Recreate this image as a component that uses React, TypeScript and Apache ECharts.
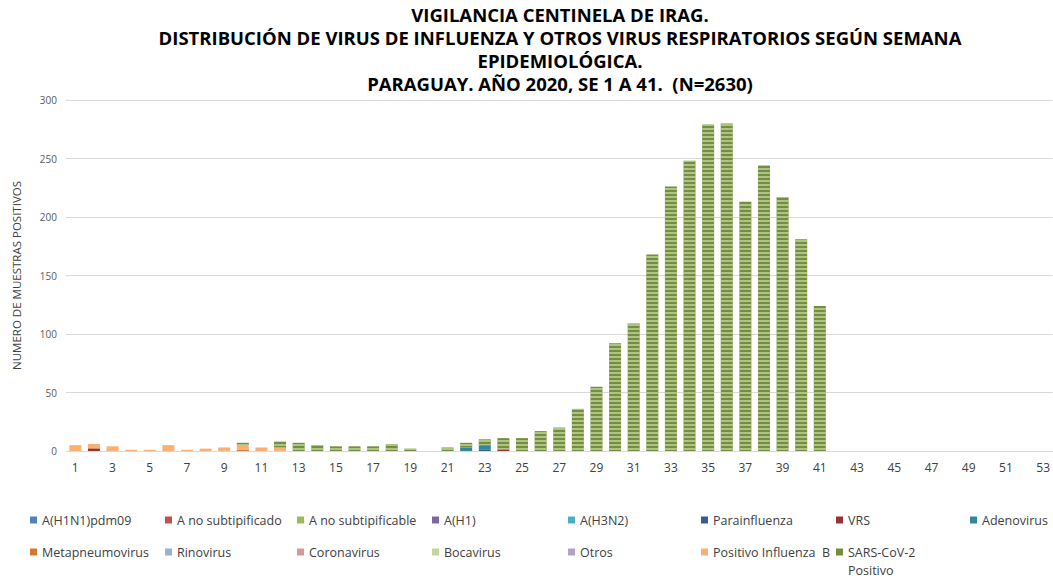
import React, { useEffect, useRef } from "react";
import * as echarts from "echarts";

const weeks: string[] = [
  "1","2","3","4","5","6","7","8","9","10","11","12","13","14","15","16","17","18","19","20",
  "21","22","23","24","25","26","27","28","29","30","31","32","33","34","35","36","37","38","39","40",
  "41","42","43","44","45","46","47","48","49","50","51","52","53",
];

const ZERO: number[] = [
  0,0,0,0,0,0,0,0,0,0, 0,0,0,0,0,0,0,0,0,0, 0,0,0,0,0,0,0,0,0,0, 0,0,0,0,0,0,0,0,0,0, 0,0,0,0,0,0,0,0,0,0, 0,0,0,
];

const parainfluenza: number[] = [
  0,0,0,0,0,0,0,0,0,0, 0,0,0,0,0,0,0,0,0,0, 0,0,1,0,0,0,0,0,0,0, 0,0,0,0,0,0,0,0,0,0, 0,0,0,0,0,0,0,0,0,0, 0,0,0,
];
const vrs: number[] = [
  0,2,0,0,0,0,0,0,0,0, 0,0,0,0,0,0,0,0,0,0, 0,0,0,1,0,0,0,0,0,0, 0,0,0,0,0,0,0,0,0,0, 0,0,0,0,0,0,0,0,0,0, 0,0,0,
];
const adenovirus: number[] = [
  0,0,0,0,0,0,0,0,0,0, 0,0,0,0,0,0,0,0,0,0, 0,3,4,0,0,0,0,0,0,0, 0,0,0,0,0,0,0,0,0,0, 0,0,0,0,0,0,0,0,0,0, 0,0,0,
];
const metapneumovirus: number[] = [
  0,1,0,0,0,0,0,0,0,1, 0,0,0,0,0,0,0,0,0,0, 0,0,0,1,0,0,0,0,0,0, 0,0,0,0,0,0,0,0,0,0, 0,0,0,0,0,0,0,0,0,0, 0,0,0,
];
const influenzaB: number[] = [
  5,3,4,1,1,5,1,2,3,4, 3,3,0,0,0,0,0,0,0,0, 0,0,0,0,0,0,0,0,0,0, 0,0,0,0,0,0,0,0,0,0, 0,0,0,0,0,0,0,0,0,0, 0,0,0,
];
const sarsCov2: number[] = [
  0,0,0,0,0,0,0,0,0,2, 0,5,7,5,4,4,4,6,2,0, 3,4,5,9,11,17,20,36,55,92, 109,168,226,248,279,280,213,244,217,181, 124,0,0,0,0,0,0,0,0,0, 0,0,0,
];

const seriesNames: string[] = [
  "A(H1N1)pdm09", "A no subtipificado", "A no subtipificable", "A(H1)", "A(H3N2)",
  "Parainfluenza", "VRS", "Adenovirus", "Metapneumovirus", "Rinovirus",
  "Coronavirus", "Bocavirus", "Otros", "Positivo Influenza  B", "SARS-CoV-2 Positivo",
];
const seriesData: number[][] = [
  ZERO, ZERO, ZERO, ZERO, ZERO,
  parainfluenza, vrs, adenovirus, metapneumovirus, ZERO,
  ZERO, ZERO, ZERO, influenzaB, sarsCov2,
];
const seriesColors: string[] = [
  "#4f81bd", "#c0504d", "#9bbb59", "#8064a2", "#4bacc6",
  "#3b5c8c", "#993333", "#31859c", "#d2782f", "#95b3d7",
  "#d99694", "#c3d69b", "#b3a2c7", "#f9b072", "#738f3e",
];

const titleLines: string[] = [
  "VIGILANCIA CENTINELA DE IRAG.",
  "DISTRIBUCIÓN DE VIRUS DE INFLUENZA Y OTROS VIRUS RESPIRATORIOS SEGÚN SEMANA",
  "EPIDEMIOLÓGICA.",
  "PARAGUAY. AÑO 2020, SE 1 A 41.  (N=2630)",
];

// legend slots: [left, top]
const legendPos: number[][] = [
  [30, 513], [165, 513], [297, 513], [432, 513], [568, 513], [701, 513], [836, 513], [970, 513],
  [30, 545], [165, 545], [297, 545], [432, 545], [568, 545], [701, 545], [836, 545],
];

export default function App() {
  const ref = useRef<HTMLDivElement>(null);
  useEffect(() => {
    if (!ref.current) return;
    const chart = echarts.init(ref.current, undefined, { renderer: "svg" });
    const font = "'Open Sans', sans-serif";
    const series = seriesNames.map((name, i) => {
      const s: any = {
        name,
        type: "bar",
        stack: "total",
        data: seriesData[i],
        barWidth: 12,
        itemStyle: { color: seriesColors[i] },
      };
      if (i === seriesNames.length - 1) {
        s.itemStyle.decal = {
          symbol: "rect",
          symbolSize: 1,
          dashArrayX: [1, 0],
          dashArrayY: [2, 2],
          rotation: 0,
          color: "rgba(215,230,185,0.6)",
        };
      }
      return s;
    });
    const legends = seriesNames.map((name, i) => ({
      data: [{ name, itemStyle: { decal: "none" } }],
      left: legendPos[i][0],
      top: legendPos[i][1],
      icon: "rect",
      itemWidth: 7,
      itemHeight: 7,
      selectedMode: false,
      padding: 0,
      textStyle: { fontFamily: font, fontSize: 12.5, color: "#404040", lineHeight: 14 },
      formatter: (n: string) => (n === "SARS-CoV-2 Positivo" ? "SARS-CoV-2" : n),
    }));
    chart.setOption({
      animation: false,
      backgroundColor: "#ffffff",
      title: {
        text: titleLines.join("\n"),
        left: 560,
        top: 3,
        padding: 0,
        textAlign: "center",
        textStyle: {
          fontFamily: font,
          fontWeight: "bold",
          fontSize: 18.5,
          lineHeight: 23,
          color: "#000000",
        },
      },
      legend: legends,
      graphic: [
        {
          type: "text",
          left: 848,
          top: 563,
          style: { text: "Positivo", fontFamily: font, fontSize: 12.5, lineHeight: 14, fill: "#404040" },
        },
      ],
      grid: { left: 66, right: -2, top: 100, bottom: 128, containLabel: false },
      xAxis: {
        type: "category",
        data: weeks,
        axisLine: { lineStyle: { color: "#d9d9d9", width: 1 } },
        axisTick: { show: false },
        axisLabel: { interval: 1, fontFamily: font, fontSize: 12, color: "#404040", margin: 10 },
      },
      yAxis: {
        type: "value",
        min: 0,
        max: 300,
        interval: 50,
        name: "NUMERO DE MUESTRAS POSITIVOS",
        nameLocation: "middle",
        nameGap: 44,
        nameTextStyle: { fontFamily: font, fontSize: 11.5, color: "#404040" },
        axisLine: { show: false },
        axisTick: { show: false },
        splitLine: { lineStyle: { color: "#d9d9d9", width: 1 } },
        axisLabel: { fontFamily: font, fontSize: 10, color: "#595959", margin: 9 },
      },
      series,
    });
    return () => chart.dispose();
  }, []);
  return (
    <div
      ref={ref}
      style={{ position: "fixed", left: 0, top: 0, width: 1053, height: 579 }}
    />
  );
}
